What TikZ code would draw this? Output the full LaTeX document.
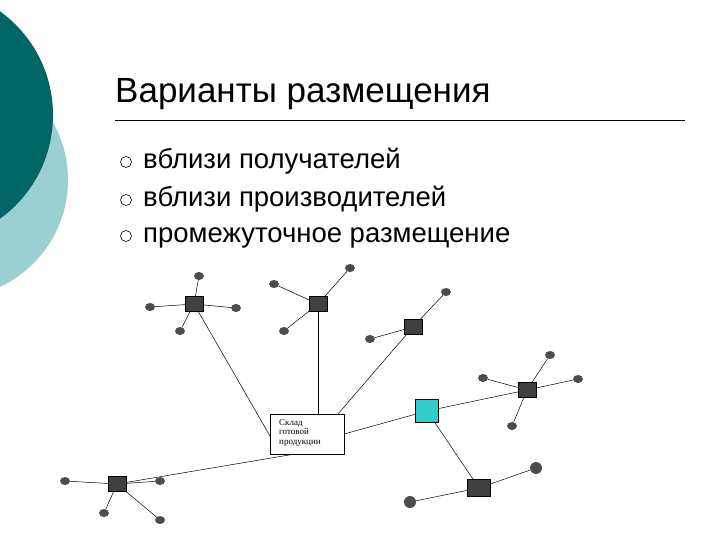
\documentclass[tikz,border=0pt]{standalone}
\usepackage{fontspec}
\setmainfont{Liberation Sans}
\newfontfamily\serifd{Liberation Serif}
\definecolor{lt}{HTML}{9CCFCF}
\definecolor{dk}{HTML}{006666}
\definecolor{cy}{HTML}{33CCCC}
\begin{document}
\begin{tikzpicture}[x=1pt,y=-1pt,
 sq/.style={draw=black,fill=black!75,minimum width=18pt,minimum height=15pt,inner sep=0pt},
 dot/.style={ellipse,fill=black!70,minimum width=10pt,minimum height=8pt,inner sep=0pt},
 ln/.style={black,line width=0.5pt}]
\usetikzlibrary{shapes.geometric}
\useasboundingbox (0,0) rectangle (720,540);
\fill[white] (0,0) rectangle (720,540);
\begin{scope}
\clip (0,0) rectangle (720,540);
\fill[lt] (-50,180) circle (118);
\fill[dk] (-75,115) circle (128);
\end{scope}
\node[anchor=base west,font=\fontsize{35}{38}\selectfont,inner sep=0pt] (title) at (115,103) {Варианты размещения};
\draw[line width=0.5pt] (115,120) coordinate (l1) -- (685,120) coordinate (l2);
\foreach \y/\t [count=\i] in {169/вблизи получателей,207/вблизи производителей,243/промежуточное размещение}{
 \node[draw,circle,minimum size=11pt,inner sep=0pt,line width=0.6pt] (b\i) at (126,\y-7) {};
 \node[anchor=base west,font=\fontsize{27.5}{30}\selectfont,inner sep=0pt] (t\i) at (143,\y) {\t};
}
\node[draw,thin,minimum width=74pt,minimum height=40pt,inner sep=0pt] (W) at (307,434) {};
\node[anchor=north west,align=left,font=\serifd\fontsize{9}{9.5}\selectfont,inner sep=0pt] (wt) at (279,419) {Склад\\готовой\\продукции};
\node[sq] (A) at (194,304) {};
\node[sq] (B) at (318,304) {};
\node[sq] (C) at (413,327) {};
\node[sq] (D) at (527,390) {};
\node[sq] (E) at (117,484) {};
\node[sq,minimum width=23pt,minimum height=17pt] (F) at (479,488) {};
\node[draw=black,fill=cy,minimum size=23pt,inner sep=0pt] (G) at (427,411) {};
\coordinate (wa) at (270,436); \coordinate (wc) at (338,414); \coordinate (we) at (295,454);
\draw[ln] (A) -- (wa); \draw[ln] (B) -- (W.north -| B); \draw[ln] (C) -- (wc);
\draw[ln] (G) -- (W.east); \draw[ln] (E) -- (we); \draw[ln] (G) -- (D); \draw[ln] (G) -- (F);
\foreach \s/\x/\y [count=\i] in {A/199/276,A/150/307,A/180/331,A/236/308,B/274/284,B/350/268,B/284/331,
 C/446/292,C/370/339,D/550/355,D/483/378,D/578/379,D/512/426,E/65/481,E/160/481,E/104/513,E/160/520}{
 \node[dot] (d\i) at (\x,\y) {};
 \draw[ln] (\s) -- (d\i);
}
\node[dot,minimum width=12pt,minimum height=12pt] (f1) at (536,468) {}; \draw[ln] (F) -- (f1);
\node[dot,minimum width=12pt,minimum height=12pt] (f2) at (410,502) {}; \draw[ln] (F) -- (f2);
\end{tikzpicture}
\end{document}
